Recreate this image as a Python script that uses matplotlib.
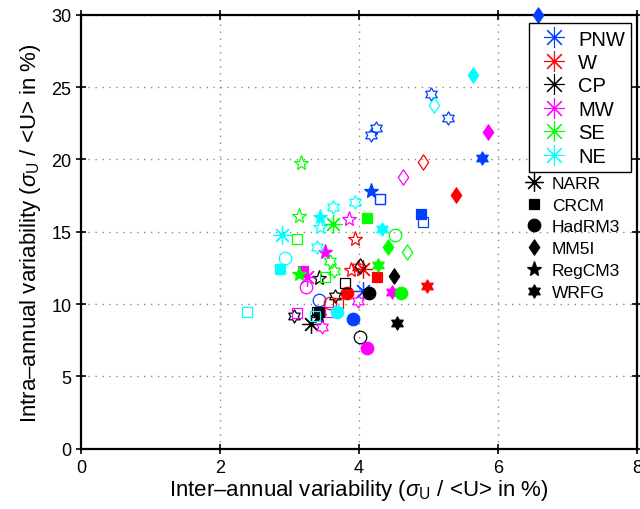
import numpy as np
import matplotlib
matplotlib.use("Agg")
import matplotlib.pyplot as plt
from matplotlib.path import Path
from matplotlib.lines import Line2D

plt.rcParams['font.family'] = ['Liberation Sans', 'DejaVu Sans']
plt.rcParams['mathtext.fontset'] = 'custom'
plt.rcParams['mathtext.rm'] = 'Liberation Sans'
plt.rcParams['mathtext.it'] = 'Liberation Sans:italic'

# region names and their colours
region_names = ["PNW", "W", "CP", "MW", "SE", "NE"]
model_names = ["NARR", "CRCM", "HadRM3", "MM5I", "RegCM3", "WRFG"]

# one entry per point: region, model, solid (1) / hollow (0), inter-annual, intra-annual
regions = (["PNW"] * 14 + ["W"] * 11 + ["CP"] * 13 + ["MW"] * 13 + ["SE"] * 14 + ["NE"] * 14)
models = [
    # PNW
    "NARR", "CRCM", "CRCM", "CRCM", "HadRM3", "HadRM3", "MM5I", "RegCM3",
    "WRFG", "WRFG", "WRFG", "WRFG", "WRFG", "CRCM",
    # W
    "NARR", "CRCM", "CRCM", "HadRM3", "HadRM3", "MM5I", "MM5I", "RegCM3",
    "RegCM3", "WRFG", "WRFG",
    # CP
    "NARR", "CRCM", "CRCM", "HadRM3", "HadRM3", "MM5I", "MM5I", "RegCM3",
    "RegCM3", "WRFG", "WRFG", "WRFG", "CRCM",
    # MW
    "NARR", "CRCM", "CRCM", "CRCM", "HadRM3", "HadRM3", "MM5I", "MM5I",
    "RegCM3", "RegCM3", "WRFG", "WRFG", "WRFG",
    # SE
    "NARR", "CRCM", "CRCM", "CRCM", "HadRM3", "HadRM3", "MM5I", "MM5I",
    "RegCM3", "RegCM3", "RegCM3", "WRFG", "WRFG", "WRFG",
    # NE
    "NARR", "CRCM", "CRCM", "CRCM", "HadRM3", "HadRM3", "MM5I", "MM5I",
    "RegCM3", "RegCM3", "WRFG", "WRFG", "WRFG", "WRFG",
]
solid = [
    1, 1, 0, 0, 1, 0, 1, 1, 1, 0, 0, 0, 0, 0,
    1, 1, 0, 1, 0, 1, 0, 0, 0, 1, 0,
    1, 1, 0, 1, 0, 1, 0, 1, 0, 1, 0, 0, 0,
    1, 1, 0, 0, 1, 0, 1, 0, 1, 0, 1, 0, 0,
    1, 1, 0, 0, 1, 0, 1, 0, 1, 0, 0, 1, 0, 0,
    1, 1, 0, 0, 1, 0, 1, 0, 1, 0, 1, 0, 0, 0,
]
inter = [
    4.06, 4.89, 4.30, 4.92, 3.92, 3.43, 6.57, 4.17, 5.77, 5.04, 5.28, 4.25, 4.17, 4.30,
    4.06, 4.26, 3.70, 3.83, 3.58, 5.39, 4.92, 3.94, 3.88, 4.98, 3.99,
    3.31, 3.42, 3.80, 4.14, 4.02, 4.50, 4.01, 3.43, 3.43, 4.54, 3.07, 3.65, 3.40,
    3.25, 3.19, 3.10, 3.58, 4.11, 3.23, 5.85, 4.64, 3.51, 3.85, 4.47, 3.98, 3.47,
    3.63, 4.11, 3.11, 3.51, 4.60, 4.52, 4.42, 4.69, 3.13, 3.13, 3.17, 4.28, 3.58, 3.64,
    2.89, 2.86, 2.38, 3.37, 3.68, 2.93, 5.64, 5.08, 3.44, 3.44, 4.33, 3.63, 3.94, 3.40,
]
intra = [
    10.9, 16.2, 17.3, 15.7, 9.0, 10.3, 30.0, 17.85, 20.1, 24.5, 22.9, 22.2, 21.7, 17.3,
    12.44, 11.87, 10.07, 10.8, 10.07, 17.55, 19.8, 14.5, 12.35, 11.25, 12.55,
    8.64, 9.45, 11.45, 10.8, 7.76, 11.94, 12.67, 9.2, 11.8, 8.69, 9.17, 10.55, 9.45,
    11.87, 12.32, 9.38, 9.45, 7.0, 11.17, 21.9, 18.8, 13.6, 15.9, 10.83, 10.25, 8.4,
    15.55, 15.95, 14.47, 11.87, 10.76, 14.8, 13.94, 13.6, 12.05, 16.1, 19.77, 12.74, 13.0, 12.3,
    14.8, 12.4, 9.45, 9.17, 9.45, 13.2, 25.85, 23.8, 16.0, 15.3, 15.2, 16.7, 17.05, 13.98,
]

colors = {"PNW": "#0040ff", "W": "#ff0000", "CP": "#000000",
          "MW": "#ff00ff", "SE": "#00ff00", "NE": "#00ffff"}

hexagram = Path.unit_regular_star(6, 0.577)
asterisk = (8, 2, 0)
diamond = Path([(0, 1), (0.68, 0), (0, -1), (-0.68, 0), (0, 1)],
               [Path.MOVETO, Path.LINETO, Path.LINETO, Path.LINETO, Path.CLOSEPOLY])
markers = {"NARR": asterisk, "CRCM": "s", "HadRM3": "o", "MM5I": diamond,
           "RegCM3": "*", "WRFG": hexagram}
sizes = {"NARR": 13, "CRCM": 7.5, "HadRM3": 9, "MM5I": 11, "RegCM3": 11, "WRFG": 9.5}

fig = plt.figure(figsize=(6.4, 5.1), dpi=100)
ax = fig.add_axes([0.127, 0.118, 0.868, 0.851])

for r, m, s, x, y in zip(regions, models, solid, inter, intra):
    c = colors[r]
    ax.plot(x, y, linestyle="none", marker=markers[m], markersize=sizes[m],
            markeredgecolor=c, markerfacecolor=c if s else "none",
            markeredgewidth=0.9, clip_on=False, zorder=3)

ax.set_xlim(0, 8)
ax.set_ylim(0, 30)
ax.set_xticks([0, 2, 4, 6, 8])
ax.set_yticks([0, 5, 10, 15, 20, 25, 30])
ax.grid(True, color="#888888", linestyle=(0, (1, 4)), linewidth=1)
for sp in ax.spines.values():
    sp.set_linewidth(1.6)
ax.tick_params(direction="inout", length=7, width=1.2, labelsize=13,
               top=True, right=True)

ax.set_xlabel("Inter\u2013annual variability ($\\sigma_{\\rm U}$ / <U> in %)", fontsize=16, labelpad=1)
ax.set_ylabel("Intra\u2013annual variability ($\\sigma_{\\rm U}$ / <U> in %)", fontsize=16, labelpad=6)

h1 = [Line2D([], [], linestyle="none", marker=asterisk, markersize=15,
             markeredgecolor=colors[r], markeredgewidth=0.8) for r in region_names]
leg1 = ax.legend(h1, region_names, loc="upper right", bbox_to_anchor=(0.99, 0.98),
                 fontsize=14.5, frameon=True, fancybox=False, edgecolor="black",
                 framealpha=1, handlelength=1.9, handletextpad=0.25, labelspacing=0.22,
                 borderpad=0.3, borderaxespad=0)
leg1.get_frame().set_linewidth(1.0)
ax.add_artist(leg1)

h2 = [Line2D([], [], linestyle="none", marker=markers[m], markersize=sizes[m],
             color="black", markeredgewidth=0.9) for m in model_names]
ax.legend(h2, model_names, loc="upper left", bbox_to_anchor=(0.8, 0.629),
          fontsize=12.5, frameon=False, handlelength=1.0, handletextpad=0.5,
          labelspacing=0.38, borderpad=0, borderaxespad=0)

fig.savefig("out.png", dpi=100)
